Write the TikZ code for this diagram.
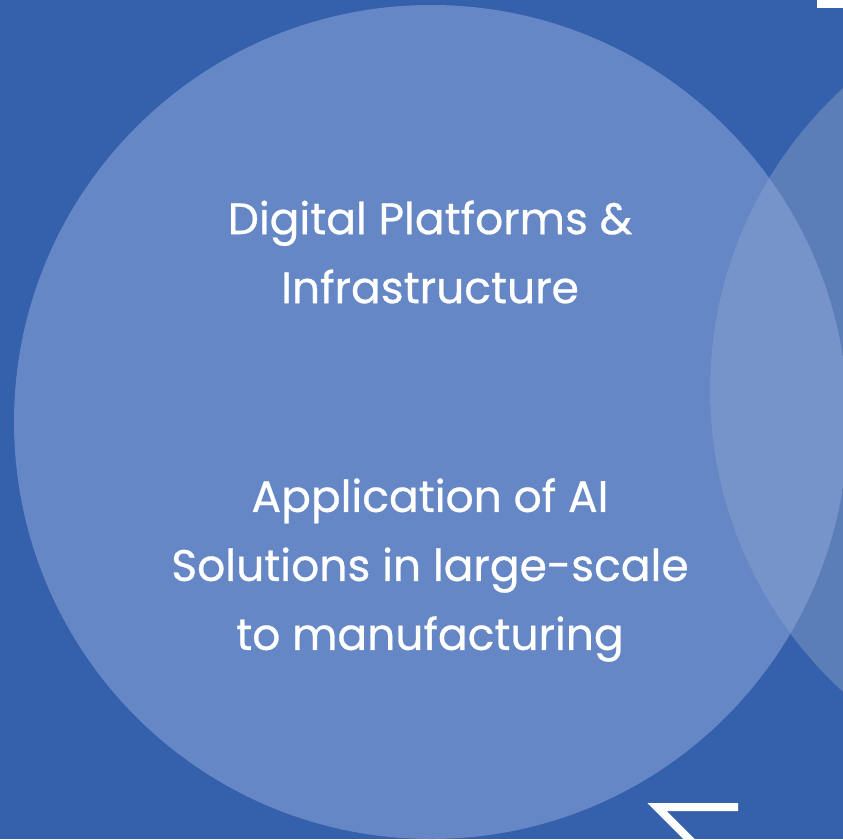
\documentclass[tikz,border=0pt]{standalone}
\usepackage{fontspec}
\setmainfont{Poppins}
\newfontfamily\labelfont[FakeBold=0.6]{Poppins}
\usepackage{xcolor}

\definecolor{bgblue}{HTML}{3560AC}
\definecolor{leftblue}{HTML}{6587C5}
\definecolor{rightblue}{HTML}{5B7DB8}
\definecolor{lensblue}{HTML}{7694CA}

\tikzset{
    label text/.style={text=white, align=center, font=\labelfont\fontsize{44}{69}\selectfont},
    bar/.style={white, line width=8pt, line join=miter}
}

\begin{document}
\begin{tikzpicture}[x=1pt, y=-1pt]

    % Background
    \fill[bgblue] (0,0) rectangle (843,839);
    \useasboundingbox (0,0) rectangle (843,839);

    % The two circles
    \fill[leftblue] (431,422) circle[radius=417pt];
    \fill[rightblue] (1119,390) circle[radius=409pt];

    % Where they overlap
    \begin{scope}
        \clip (431,422) circle[radius=417pt];
        \fill[lensblue] (1119,390) circle[radius=409pt];
    \end{scope}

    % Labels
    \node[label text] (platforms) at (430,252) {Digital Platforms \&\\Infrastructure};
    \node[label text] (solutions) at (430,570) {Application of AI\\Solutions in large-scale\\to manufacturing};

    % Arrow pieces at the edges
    \draw[bar] (738,807) -- (657,807) -- (705,855);
    \draw[bar] (817,4) -- (850,4);

\end{tikzpicture}
\end{document}
